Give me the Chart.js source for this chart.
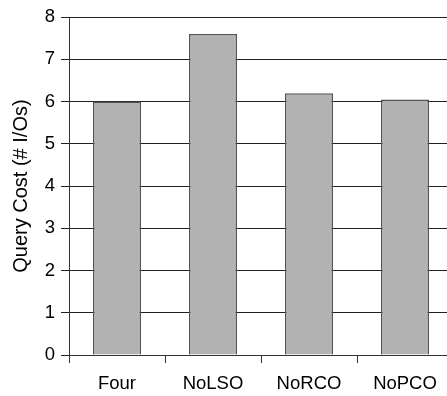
<!DOCTYPE html>
<html>
<head>
<meta charset="utf-8">
<script src="https://cdn.jsdelivr.net/npm/chart.js@4/dist/chart.umd.min.js"></script>
<style>
  html, body { margin: 0; padding: 0; background: #fff; overflow: hidden; }
  #wrap { position: relative; width: 453px; height: 396px; }
</style>
</head>
<body>
<div id="wrap"><canvas id="chart"></canvas></div>
<script>
const categories = ['Four', 'NoLSO', 'NoRCO', 'NoPCO'];
const queryCost = [6.0, 7.6, 6.2, 6.05];
const yTicks = [0, 1, 2, 3, 4, 5, 6, 7, 8];
const yTitle = 'Query Cost (# I/Os)';

const ctx = document.getElementById('chart').getContext('2d');
new Chart(ctx, {
    type: 'bar',
    data: {
        labels: categories,
        datasets: [{
            data: queryCost,
            backgroundColor: '#b3b3b3',
            borderColor: '#555555',
            borderWidth: 1.5,
            barPercentage: 0.5,
            categoryPercentage: 1.0
        }]
    },
    options: {
        responsive: true,
        maintainAspectRatio: false,
        animation: false,
        layout: { padding: { top: 16, right: 0, bottom: 0, left: 0 } },
        plugins: {
            legend: { display: false },
            tooltip: { enabled: false }
        },
        scales: {
            x: {
                grid: {
                    offset: true,
                    drawOnChartArea: false,
                    drawTicks: true,
                    tickLength: 8,
                    color: '#333'
                },
                border: { display: true, color: '#333', width: 1 },
                ticks: {
                    color: '#000',
                    padding: 10,
                    font: { family: 'Liberation Sans, Arial', size: 18.5 }
                },
                afterFit: (scale) => { scale.height = 41; }
            },
            y: {
                min: 0,
                max: 8,
                afterBuildTicks: (scale) => { scale.ticks = yTicks.map(v => ({ value: v })); },
                grid: {
                    color: '#222',
                    tickLength: 8,
                    lineWidth: 1
                },
                border: { display: true, color: '#333', width: 1 },
                ticks: {
                    color: '#000',
                    padding: 6,
                    font: { family: 'Liberation Sans, Arial', size: 18.5 }
                },
                title: {
                    display: true,
                    text: yTitle,
                    color: '#000',
                    padding: { top: 9, bottom: 0 },
                    font: { family: 'Liberation Sans, Arial', size: 20 }
                },
                afterFit: (scale) => { scale.width = 69; }
            }
        }
    }
});
</script>
</body>
</html>
